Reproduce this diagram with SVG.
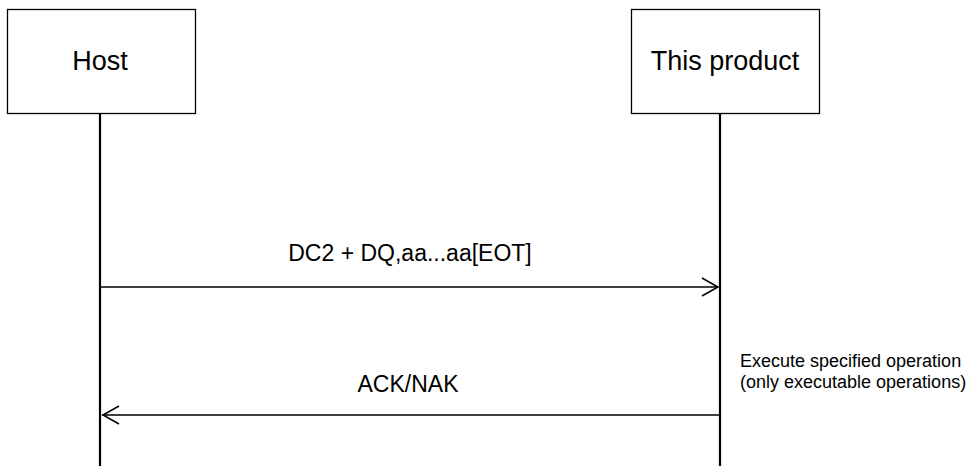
<svg xmlns="http://www.w3.org/2000/svg" width="978" height="466" viewBox="0 0 978 466">
<defs>
<style>
.box{fill:#fff;stroke:#000;stroke-width:1.3}
.life{stroke:#000;stroke-width:2.2;fill:none}
.msg{stroke:#000;stroke-width:1.5;fill:none}
.head{stroke:#000;stroke-width:1.5;fill:none}
text{font-family:"Liberation Sans",Arial,sans-serif;fill:#000}
.t{font-size:27px;text-anchor:middle}
.m{font-size:23px;text-anchor:middle}
.n{font-size:18px}
</style>
</defs>
<rect width="978" height="466" fill="#fff"/>
<g id="host">
<rect class="box" x="7.5" y="9.5" width="188" height="104"/>
<text class="t" x="100" y="70">Host</text>
</g>
<g id="product">
<rect class="box" x="631.5" y="9.5" width="188" height="104"/>
<text class="t" x="725" y="70">This product</text>
</g>
<g id="connectors">
<line class="life" x1="100" y1="114" x2="100" y2="466"/>
<line class="life" x1="720" y1="114" x2="720" y2="466"/>
<line class="msg" x1="100" y1="287" x2="718" y2="287"/>
<polyline class="head" points="702,278 718,287 702,296"/>
<line class="msg" x1="720" y1="415" x2="102" y2="415"/>
<polyline class="head" points="119,406 103,415 119,424"/>
</g>
<g id="labels">
<text class="m" x="410" y="261">DC2 + DQ,aa...aa[EOT]</text>
<text class="m" x="408" y="392">ACK/NAK</text>
<text class="n" x="740" y="367">Execute specified operation</text>
<text class="n" x="740" y="388">(only executable operations)</text>
</g>
</svg>
